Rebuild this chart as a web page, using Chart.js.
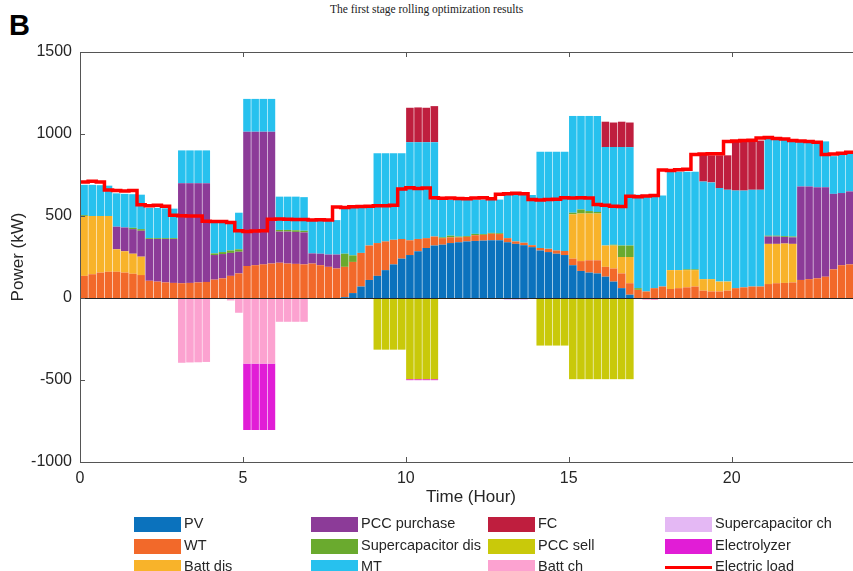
<!DOCTYPE html>
<html>
<head>
<meta charset="utf-8">
<script src="https://cdn.jsdelivr.net/npm/chart.js@4.4.1/dist/chart.umd.min.js"></script>
<style>
  body { margin:0; width:853px; height:571px; overflow:hidden; background:#fff; position:relative;
         font-family:"Liberation Sans", Arial, sans-serif; color:#262626; }
  #title { position:absolute; top:3px; left:0; width:853px; text-align:center;
           font:11.5px "Liberation Serif", "Times New Roman", serif; color:#222; }
  #panel { position:absolute; left:9px; top:11px; font:bold 29px "Liberation Sans", Arial, sans-serif; color:#000; line-height:1; }
  #wrap { position:absolute; left:0; top:0; width:866px; height:515px; }
  .item { position:absolute; height:22px; font-size:14.5px; line-height:22px; white-space:nowrap; color:#262626; }
  .sw { position:absolute; left:0; top:4px; width:47px; height:15px; }
  .txt { position:absolute; left:50px; top:-1px; }
</style>
</head>
<body>
<div id="title">The first stage rolling optimization results</div>
<div id="panel">B</div>
<div id="wrap"><canvas id="chart"></canvas></div>
<div id="legend"></div>
<script>
// 15-minute steps over the day
const hours = Array.from({length: 96}, (_, i) => i * 0.25);
const xTicks = [0, 5, 10, 15, 20];
const yTicks = [-1000, -500, 0, 500, 1000, 1500];

// kW, 4 values per hour, one line = 6 hours
const pv = [
  0,0,0,0, 0,0,0,0, 0,0,0,0, 0,0,0,0, 0,0,0,0, 0,0,0,0,
  0,0,0,0, 0,0,0,0, 5,30,70,110, 135,170,205,240, 262,285,305,320, 325,335,340,345,
  348,350,352,352, 340,330,322,310, 290,280,270,262, 200,165,155,150, 130,100,60,20, 0,0,0,0,
  0,0,0,0, 0,0,0,0, 0,0,0,0, 0,0,0,0, 0,0,0,0, 0,0,0,0
];
const wt = [
  135,145,155,160, 160,155,148,140, 105,100,95,92, 90,92,95,98, 112,120,135,150, 195,200,205,210,
  215,210,208,205, 210,200,190,180, 185,190,205,210, 200,175,150,120, 90,75,60,55, 40,35,30,28,
  35,35,40,38, 25,15,15,12, 15,20,20,25, 40,60,75,80, 60,80,90,70, 50,40,60,70,
  55,60,65,70, 45,40,40,45, 60,65,70,70, 85,90,92,95, 110,115,120,130, 175,200,205,205
];
const battDis = [
  365,355,345,340, 137,130,122,112, 0,0,0,0, 0,0,0,0, 0,0,0,0, 0,0,0,0,
  0,0,0,0, 0,0,0,0, 0,0,0,0, 0,0,0,0, 0,0,0,0, 0,0,0,0,
  0,0,0,0, 0,0,0,0, 0,0,0,0, 270,290,285,285, 130,140,100,160, 0,0,0,0,
  115,110,105,100, 70,75,60,55, 0,0,0,0, 245,240,240,235, 0,0,0,0, 0,0,0,0
];
const pccBuy = [
  0,0,0,0, 138,145,150,158, 255,260,265,268, 610,608,605,602, 150,148,140,132, 819,814,809,804,
  190,195,195,195, 62,70,75,85, 0,0,0,0, 0,0,0,0, 0,0,0,0, 0,0,0,0,
  0,0,0,0, 0,0,0,0, 0,0,0,0, 0,0,0,0, 0,0,0,0, 0,0,0,0,
  0,0,0,0, 0,0,0,0, 0,0,0,0, 45,45,40,40, 570,565,555,545, 460,440,445,450
];
const scDis = [
  5,0,0,0, 0,0,8,10, 5,5,5,5, 0,0,0,0, 10,12,15,15, 0,0,0,0,
  10,10,10,10, 0,0,0,0, 80,40,0,0, 0,0,0,0, 0,0,0,0, 5,10,5,5,
  8,5,5,5, 0,0,0,0, 0,0,0,0, 10,25,15,10, 0,5,70,70, 10,0,0,0,
  0,0,5,5, 0,0,0,0, 0,0,0,0, 5,5,5,5, 0,0,0,0, 0,0,0,0
];
const mt = [
  185,190,188,185, 203,205,205,210, 185,185,182,180, 200,200,200,200, 193,185,180,223, 200,200,200,200,
  203,203,205,205, 200,205,208,210, 287,297,282,237, 547,537,527,522, 598,590,585,575, 230,220,225,222,
  209,210,203,205, 263,283,291,306, 587,592,602,605, 590,570,580,585, 600,595,600,600, 570,580,560,555,
  600,600,595,595, 595,590,570,560, 595,590,590,590, 595,595,595,595, 275,280,280,280, 230,235,230,230
];
const fc = [
  0,0,0,0, 0,0,0,0, 0,0,0,0, 0,0,0,0, 0,0,0,0, 0,0,0,0,
  0,0,0,0, 0,0,0,0, 0,0,0,0, 0,0,0,0, 210,212,210,220, 0,0,0,0,
  0,0,0,0, 0,0,0,0, 0,0,0,0, 0,0,0,0, 155,150,155,150, 0,0,0,0,
  0,0,0,0, 162,165,200,210, 300,300,295,300, 0,0,0,0, 0,0,0,0, 0,0,0,0
];
const pccSell = [
  0,0,0,0, 0,0,0,0, 0,0,0,0, 0,0,0,0, 0,0,0,0, 0,0,0,0,
  0,0,0,0, 0,0,0,0, 0,0,0,0, -315,-315,-315,-315, -495,-495,-495,-495, 0,0,0,0,
  0,0,0,0, 0,0,0,0, -290,-290,-290,-290, -495,-495,-495,-495, -495,-495,-495,-495, 0,0,0,0,
  0,0,0,0, 0,0,0,0, 0,0,0,0, 0,0,0,0, 0,0,0,0, 0,0,0,0
];
const battCh = [
  0,0,0,0, 0,0,0,0, 0,0,0,0, -395,-393,-392,-390, 0,0,-15,-90, -400,-400,-400,-400,
  -145,-145,-145,-145, 0,0,0,0, 0,0,0,0, 0,0,0,0, 0,0,0,0, 0,0,0,0,
  0,0,0,0, 0,0,0,0, 0,0,0,0, 0,0,0,0, 0,0,0,0, 0,-10,-12,0,
  0,0,0,0, 0,0,0,0, 0,0,0,0, 0,0,0,0, 0,0,0,0, 0,0,0,0
];
const scCh = [
  0,0,0,0, 0,0,0,0, 0,0,0,0, 0,0,0,0, 0,0,0,0, 0,0,0,0,
  0,0,0,0, 0,0,0,0, 0,0,0,0, 0,0,0,0, 0,0,0,0, 0,0,0,0,
  0,0,0,0, -10,-10,-10,-5, 0,0,0,0, 0,0,0,0, 0,0,0,0, 0,0,0,0,
  0,0,0,0, 0,0,0,0, 0,0,0,0, 0,0,0,0, 0,0,0,0, 0,0,0,0
];
const electrolyzer = [
  0,0,0,0, 0,0,0,0, 0,0,0,0, 0,0,0,0, 0,0,0,0, -405,-405,-405,-405,
  0,0,0,0, 0,0,0,0, 0,0,0,0, 0,0,0,0, -6,-6,-6,-6, 0,0,0,0,
  0,0,0,0, 0,0,0,0, 0,0,0,0, 0,0,0,0, 0,0,0,0, 0,0,0,0,
  0,0,0,0, 0,0,0,0, 0,0,0,0, 0,0,0,0, 0,0,0,0, 0,0,0,0
];
const load = [
  700,708,712,708, 658,655,652,655, 568,562,565,560, 505,502,500,500, 468,466,466,460, 410,405,408,410,
  480,482,480,478, 478,475,477,475, 555,552,556,558, 560,563,562,565, 665,672,668,670, 612,608,610,606,
  605,610,612,605, 632,636,638,636, 600,598,600,602, 612,610,612,610, 570,565,560,558, 620,618,622,625,
  780,778,782,785, 875,878,880,880, 955,958,960,962, 975,978,972,970, 960,958,955,950, 875,878,882,888
];

// stacking order = legend order
const series = [
  {label: 'PV', values: pv, color: '#0b72bd'},
  {label: 'WT', values: wt, color: '#f2692a'},
  {label: 'Batt dis', values: battDis, color: '#f8b32a'},
  {label: 'PCC purchase', values: pccBuy, color: '#8c3b98'},
  {label: 'Supercapacitor dis', values: scDis, color: '#6aaa2e'},
  {label: 'MT', values: mt, color: '#27c1ee'},
  {label: 'FC', values: fc, color: '#bf1e3e'},
  {label: 'PCC sell', values: pccSell, color: '#c9c90a'},
  {label: 'Batt ch', values: battCh, color: '#fca2d0'},
  {label: 'Supercapacitor ch', values: scCh, color: '#e4b8f4'},
  {label: 'Electrolyzer', values: electrolyzer, color: '#e11dd6'}
];
const loadColor = '#ff0000';
const ink = '#262626';

Chart.defaults.font.family = '"Liberation Sans", Arial, sans-serif';

const datasets = series.map(s => ({
  type: 'bar',
  label: s.label,
  data: s.values.map((v, i) => ({x: hours[i] + 0.125, y: v})),
  backgroundColor: s.color,
  borderWidth: 0,
  barPercentage: 1,
  categoryPercentage: 0.93,
  stack: 'power'
}));
datasets.push({
  type: 'line',
  label: 'Electric load',
  data: load.map((v, i) => ({x: hours[i], y: v})),
  borderColor: loadColor,
  borderWidth: 3.5,
  pointRadius: 0,
  stepped: 'after',
  fill: false,
  stack: 'load',
  order: -1
});

// matlab style box, inward ticks and zero baseline
const frame = {
  id: 'frame',
  afterDatasetsDraw(chart) {
    const {ctx, chartArea: a, scales: {x, y}} = chart;
    ctx.save();
    ctx.strokeStyle = ink;
    ctx.lineWidth = 1;
    const y0 = Math.round(y.getPixelForValue(0)) + 0.5;
    ctx.beginPath();
    ctx.moveTo(a.left, y0);
    ctx.lineTo(a.right, y0);
    ctx.stroke();
    ctx.strokeStyle = '#555';
    ctx.strokeRect(Math.round(a.left) + 0.5, Math.round(a.top) + 0.5, a.width, a.height);
    ctx.beginPath();
    xTicks.forEach(v => {
      const px = Math.round(x.getPixelForValue(v)) + 0.5;
      ctx.moveTo(px, a.bottom); ctx.lineTo(px, a.bottom - 5);
      ctx.moveTo(px, a.top); ctx.lineTo(px, a.top + 5);
    });
    yTicks.forEach(v => {
      const py = Math.round(y.getPixelForValue(v)) + 0.5;
      ctx.moveTo(a.left, py); ctx.lineTo(a.left + 5, py);
    });
    ctx.stroke();
    ctx.restore();
  }
};

new Chart(document.getElementById('chart'), {
  type: 'bar',
  data: {datasets: datasets},
  plugins: [frame],
  options: {
    responsive: true,
    maintainAspectRatio: false,
    animation: false,
    devicePixelRatio: 1,
    layout: {padding: {top: 52, right: 4, left: 0, bottom: 0}},
    plugins: {legend: {display: false}, tooltip: {enabled: false}},
    scales: {
      x: {
        type: 'linear', min: 0, max: 24, stacked: true, offset: false,
        afterBuildTicks: s => { s.ticks = xTicks.map(v => ({value: v})); },
        afterFit: s => { s.height = 53; },
        grid: {display: false, drawTicks: false},
        border: {display: false},
        ticks: {padding: 7, font: {size: 16}, color: ink, maxRotation: 0, callback: v => String(v)},
        title: {display: true, text: 'Time (Hour)', font: {size: 17}, color: ink, padding: {top: 0, bottom: 7}}
      },
      y: {
        min: -1000, max: 1500, stacked: true,
        afterBuildTicks: s => { s.ticks = yTicks.map(v => ({value: v})); },
        afterFit: s => { s.width = 80; },
        grid: {display: false, drawTicks: false},
        border: {display: false},
        ticks: {padding: 8, font: {size: 16}, color: ink, callback: v => String(v)},
        title: {display: true, text: 'Power (kW)', font: {size: 17}, color: ink, padding: {top: 8, bottom: 0}}
      }
    }
  }
});

// legend: 4 columns, filled column by column
const colX = [134, 311, 488, 665];
const rowY = [524, 546, 567];
const legend = document.getElementById('legend');
const entries = series.map(s => ({label: s.label, color: s.color, line: false}));
entries.push({label: 'Electric load', color: loadColor, line: true});
entries.forEach((e, i) => {
  const item = document.createElement('div');
  item.className = 'item';
  item.style.left = colX[Math.floor(i / 3)] + 'px';
  item.style.top = (rowY[i % 3] - 11) + 'px';
  const sw = document.createElement('div');
  sw.className = 'sw';
  sw.style.background = e.color;
  if (e.line) { sw.style.top = '10px'; sw.style.height = '3px'; }
  const txt = document.createElement('span');
  txt.className = 'txt';
  txt.textContent = e.label;
  item.appendChild(sw);
  item.appendChild(txt);
  legend.appendChild(item);
});
</script>
</body>
</html>
